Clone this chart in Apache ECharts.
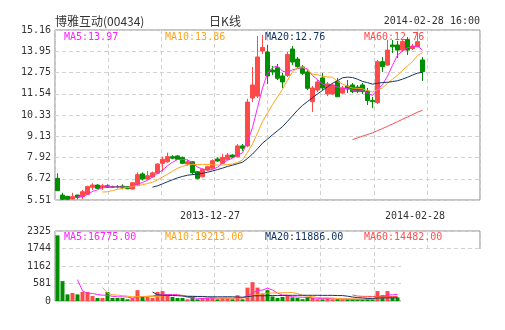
<!DOCTYPE html>
<html><head><meta charset="utf-8">
<script src="https://cdn.jsdelivr.net/npm/echarts@6/dist/echarts.min.js"></script>
<style>html,body{margin:0;padding:0;background:#fff}#c{width:505px;height:330px}</style>
</head><body><div id="c"></div>
<script>
// ---- texts ----
const stockName = '博雅互动(00434)';
const chartTitle = '日K线';
const timeStamp = '2014-02-28 16:00';
const priceTicks = ['5.51','6.72','7.92','9.13','10.33','11.54','12.75','13.95','15.16'];
const volumeTicks = ['0','581','1162','1744','2325'];
const dateTicks = ['2013-12-27','2014-02-28'];
const maNames = ['MA5','MA10','MA20','MA60'];
const priceMaValues = ['13.97','13.86','12.76','12.76'];
const volumeMaValues = ['16775.00','19213.00','11886.00','14482.00'];

// ---- data (daily) ----
const opens = [6.74,5.79,5.72,5.57,5.79,5.70,5.83,6.23,6.36,6.21,
  6.32,6.28,6.28,6.30,6.27,6.13,6.36,6.99,6.70,6.82,
  7.03,7.59,7.68,7.97,8.01,7.93,7.55,7.68,7.12,6.83,
  7.21,7.31,7.84,7.59,7.82,8.06,7.97,8.58,8.58,11.30,
  11.41,13.97,13.91,12.89,13.02,12.55,12.58,14.08,13.51,13.06,
  12.78,11.09,11.75,12.44,11.53,11.53,12.23,11.58,11.98,12.04,
  11.92,12.04,11.70,11.16,11.04,13.36,13.17,14.31,14.31,14.02,
  14.62,14.11,14.21,13.46];
const closes = [6.04,5.55,5.55,5.70,5.66,5.98,6.27,6.36,6.17,6.32,
  6.23,6.23,6.25,6.23,6.15,6.49,6.95,6.70,6.89,7.05,
  7.55,7.82,7.97,7.88,7.82,7.59,7.68,7.06,6.74,7.25,
  7.40,7.74,7.72,7.93,8.06,7.95,8.58,8.45,11.07,12.04,
  13.63,14.17,12.55,12.78,12.42,12.21,13.77,13.34,13.08,12.70,
  11.85,11.87,12.21,11.87,12.10,12.04,11.37,11.87,11.81,11.66,
  11.66,11.66,11.16,11.09,13.36,13.08,14.02,14.21,14.02,14.51,
  14.02,14.25,14.50,12.79];
const lows = [6.02,5.51,5.51,5.54,5.55,5.57,5.80,6.08,6.13,6.08,
  6.19,6.19,6.17,6.12,6.12,6.10,6.30,6.62,6.65,6.78,
  7.00,7.12,7.62,7.82,7.79,7.55,7.45,6.93,6.68,6.80,
  7.15,7.25,7.68,7.55,7.78,7.90,7.93,8.30,8.50,11.07,
  11.30,13.80,12.09,12.61,12.32,11.87,12.49,13.17,13.00,12.61,
  11.75,10.51,11.64,11.75,11.41,11.47,11.36,11.53,11.58,11.58,
  11.58,11.53,10.90,10.72,10.96,12.78,13.12,13.85,13.57,13.91,
  13.74,14.02,14.19,12.27];
const highs = [7.03,5.92,5.74,5.92,5.81,6.08,6.32,6.46,6.40,6.43,
  6.40,6.32,6.35,6.40,6.30,6.52,7.08,7.08,7.16,7.12,
  7.60,7.97,8.20,8.05,8.05,7.97,7.80,7.72,7.15,7.30,
  7.45,7.82,7.93,8.14,8.18,8.10,8.69,8.69,11.26,13.06,
  14.82,14.88,14.31,13.12,13.23,12.72,13.91,14.25,13.63,13.17,
  12.89,11.98,12.32,12.72,12.21,12.15,12.44,11.98,12.32,12.15,
  12.04,12.15,11.87,11.36,13.46,13.63,14.59,14.59,14.54,14.65,
  14.76,14.37,15.06,13.63];
const volumes = [2180,660,220,265,220,300,300,165,100,100,
  300,100,100,100,56,100,360,133,133,100,
  300,330,210,133,100,100,56,133,56,100,
  100,133,56,100,100,56,190,56,445,625,
  445,250,360,150,100,133,200,120,100,60,
  133,100,60,56,100,56,56,56,56,56,
  56,56,100,56,330,190,330,120,120];

const SLOTS = 85;
const cats = Array.from({length: SLOTS}, (_, i) => String(i));

const UP = '#ff4a4a', DOWN = '#008f00';
const maColors = ['#ff22ff', '#ffa31a', '#123463', '#ff4d4d'];
const maPeriods = [5, 10, 20, 60];
const MONO = '"DejaVu Sans Mono", "Liberation Mono", monospace';

function calculateMA(n, arr) {
  const out = [];
  for (let i = 0; i < arr.length; i++) {
    if (i < n - 1) { out.push('-'); continue; }
    let s = 0;
    for (let j = 0; j < n; j++) s += arr[i - j];
    out.push(+(s / n).toFixed(3));
  }
  return out;
}

const kData = opens.map((o, i) => [o, closes[i], lows[i], highs[i]]);
const volData = volumes.map((v, i) => ({
  value: v,
  itemStyle: { color: closes[i] >= opens[i] ? UP : DOWN }
}));

const dashed = { show: true, lineStyle: { color: '#d2d2d2', type: [4, 3], width: 1 } };

const series = [
  {
    type: 'candlestick', xAxisIndex: 0, yAxisIndex: 0, data: kData, barWidth: 3.6,
    itemStyle: { color: UP, color0: DOWN, borderColor: UP, borderColor0: DOWN, borderWidth: 1 },
    silent: true
  }
];
maPeriods.forEach((p, k) => {
  series.push({ type: 'line', xAxisIndex: 0, yAxisIndex: 0, data: calculateMA(p, closes),
    symbol: 'none', lineStyle: { width: 1, color: maColors[k] }, silent: true, z: 3 });
});
series.push({ type: 'bar', xAxisIndex: 2, yAxisIndex: 2, data: volData, barWidth: 4, silent: true });
maPeriods.forEach((p, k) => {
  series.push({ type: 'line', xAxisIndex: 2, yAxisIndex: 2, data: calculateMA(p, volumes),
    symbol: 'none', lineStyle: { width: 1, color: maColors[k] }, silent: true, z: 3 });
});

function txt(x, y, text, fill, font, align) {
  return { type: 'text', x: x, y: y, z: 100, silent: true,
    style: { text: text, fill: fill, font: font, textAlign: align || 'left', align: align || 'left',
      textVerticalAlign: 'middle', verticalAlign: 'middle' } };
}

const legendX = [64, 165, 265, 364];
const graphics = [
  txt(55, 21, stockName, '#333', '12px "Noto Sans CJK SC"', 'left'),
  txt(225, 21, chartTitle, '#333', '12px "Noto Sans CJK SC"', 'center'),
  txt(480, 21, timeStamp, '#333', '10px ' + MONO, 'right'),
  txt(210, 216, dateTicks[0], '#333', '10px ' + MONO, 'center'),
  txt(415, 216, dateTicks[1], '#333', '10px ' + MONO, 'center'),
  { type: 'rect', z: 50, silent: true, shape: { x: 401, y: 249, width: 82, height: 55 }, style: { fill: '#fff' } }
];
maNames.forEach((n, k) => {
  graphics.push(txt(legendX[k], 37, n + ':' + priceMaValues[k], maColors[k], '10px ' + MONO, 'left'));
  graphics.push(txt(legendX[k], 237, n + ':' + volumeMaValues[k], maColors[k], '10px ' + MONO, 'left'));
});

const hiddenCat = (g, pos) => ({ type: 'category', gridIndex: g, data: cats, boundaryGap: true, position: pos,
  axisLine: { show: false }, axisTick: { show: false }, axisLabel: { show: false }, splitLine: { show: false } });
const gridX = (g) => ({ type: 'value', gridIndex: g, min: 0, max: 8, interval: 1, position: 'bottom',
  axisLine: { show: false }, axisTick: { show: false }, axisLabel: { show: false }, splitLine: dashed });

const option = {
  animation: false,
  backgroundColor: '#fff',
  grid: [
    { left: 55, top: 30, width: 425, height: 170, show: true, borderColor: '#8a8a8a', borderWidth: 1 },
    { left: 55, top: 231, width: 425, height: 70, show: true, borderColor: '#8a8a8a', borderWidth: 1 }
  ],
  xAxis: [hiddenCat(0, 'top'), gridX(0), hiddenCat(1, 'top'), gridX(1)],
  yAxis: [
    { type: 'value', gridIndex: 0, min: 5.51, max: 15.16, position: 'right', show: false, splitLine: { show: false } },
    { type: 'value', gridIndex: 0, min: 0, max: 8, interval: 1, position: 'left',
      axisLine: { show: false }, axisTick: { show: false }, splitLine: dashed,
      axisLabel: { margin: 4, color: '#333', fontSize: 10, fontFamily: MONO, formatter: v => priceTicks[v] } },
    { type: 'value', gridIndex: 1, min: 0, max: 2325, position: 'right', show: false, splitLine: { show: false } },
    { type: 'value', gridIndex: 1, min: 0, max: 4, interval: 1, position: 'left',
      axisLine: { show: false }, axisTick: { show: false }, splitLine: dashed,
      axisLabel: { margin: 4, color: '#333', fontSize: 10, fontFamily: MONO, formatter: v => volumeTicks[v] } }
  ],
  series: series,
  graphic: graphics
};

const chart = echarts.init(document.getElementById('c'), null, { renderer: 'canvas' });
chart.setOption(option);
</script>
</body></html>
